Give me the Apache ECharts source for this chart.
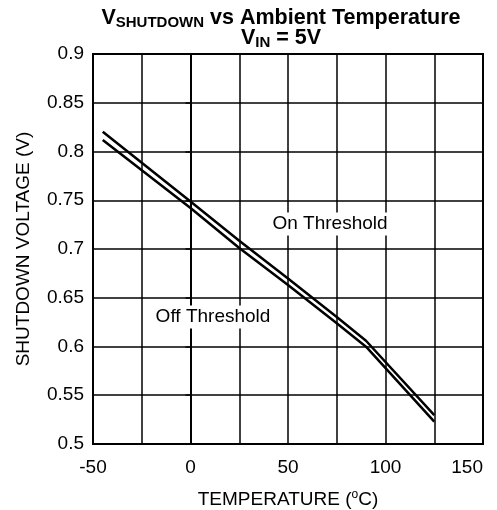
<html>

<head>
    <meta charset="utf-8" />
    <title>VSHUTDOWN vs Ambient Temperature</title>
    <script src="https://cdn.jsdelivr.net/npm/echarts@6/dist/echarts.min.js"></script>
    <style>
        html, body {
            margin: 0;
            background: #fff;
        }
        #chart {
            width: 497px;
            height: 510px;
        }
    </style>
</head>

<body>
<div id="chart"></div>

<script>
    // values
    const onTemp = [-45, 0, 25, 50, 75, 90, 125];
    const onVolt = [0.8203, 0.7488, 0.7085, 0.6697, 0.6303, 0.6059, 0.5297];
    const offTemp = [-45, 0, 25, 50, 75, 90, 125];
    const offVolt = [0.8118, 0.742, 0.701, 0.663, 0.6238, 0.5998, 0.5229];

    const xMin = -50, xMax = 150, xStep = 25;
    const yMin = 0.5, yMax = 0.9, yStep = 0.05;

    const font = '"Liberation Sans", Arial, sans-serif';

    function pairs(xs, ys) {
        return xs.map((x, i) => [x, ys[i]]);
    }

    let chart = echarts.init(document.getElementById('chart'));

    chart.setOption({
        animation: false,
        textStyle: { fontFamily: font },
        grid: {
            left: 93,
            right: 14,
            top: 54,
            bottom: 66,
            outerBoundsMode: 'none',
            containLabel: false,
            show: true,
            borderColor: '#000',
            borderWidth: 2
        },
        xAxis: {
            type: 'value',
            min: xMin,
            max: xMax,
            interval: xStep,
            name: '{a|TEMPERATURE (}{s|o}{a|C)}',
            nameLocation: 'middle',
            nameGap: 45,
            nameTextStyle: {
                rich: {
                    a: { fontSize: 19, color: '#000', fontFamily: font, lineHeight: 22 },
                    s: { fontSize: 12, color: '#000', fontFamily: font, verticalAlign: 'top', lineHeight: 12 }
                }
            },
            axisLine: { lineStyle: { color: '#000', width: 2 } },
            axisTick: { show: false },
            splitLine: { lineStyle: { color: '#000', width: 1.5 } },
            axisLabel: {
                color: '#000',
                fontSize: 19,
                margin: 14,
                alignMaxLabel: 'right',
                formatter: v => (v % 50 === 0 ? String(v) : '')
            }
        },
        yAxis: {
            type: 'value',
            min: yMin,
            max: yMax,
            interval: yStep,
            name: 'SHUTDOWN VOLTAGE (V)',
            nameLocation: 'middle',
            nameGap: 60,
            nameTextStyle: { color: '#000', fontSize: 19 },
            axisLine: { lineStyle: { color: '#000', width: 2 } },
            axisTick: { show: true, length: 5, lineStyle: { color: '#000', width: 1.5 } },
            splitLine: { lineStyle: { color: '#000', width: 1.5 } },
            axisLabel: {
                color: '#000',
                fontSize: 19,
                margin: 9,
                formatter: v => String(+v.toFixed(2))
            }
        },
        series: [
            {
                name: 'On Threshold',
                type: 'line',
                data: pairs(onTemp, onVolt),
                showSymbol: false,
                lineStyle: { color: '#000', width: 2.5 },
                z: 5
            },
            {
                name: 'Off Threshold',
                type: 'line',
                data: pairs(offTemp, offVolt),
                showSymbol: false,
                lineStyle: { color: '#000', width: 2.5 },
                z: 5
            }
        ],
        graphic: [
            {
                type: 'text',
                x: 281,
                y: 8,
                z: 100,
                style: {
                    text: '{v|V}{s|SHUTDOWN}{v| vs Ambient Temperature}\n{v|V}{s|IN}{v| = 5V}',
                    align: 'center',
                    rich: {
                        v: { fontSize: 21.5, fontWeight: 'bold', fill: '#000', fontFamily: font, lineHeight: 20 },
                        s: { fontSize: 15, fontWeight: 'bold', fill: '#000', fontFamily: font, height: 10, lineHeight: 10, verticalAlign: 'bottom' }
                    }
                }
            },
            {
                type: 'text',
                x: 330,
                y: 224,
                z: 100,
                style: {
                    text: 'On Threshold',
                    align: 'center',
                    verticalAlign: 'middle',
                    fontSize: 19,
                    fontFamily: font,
                    fill: '#000',
                    backgroundColor: '#fff',
                    padding: [2, 2]
                }
            },
            {
                type: 'text',
                x: 213,
                y: 317,
                z: 100,
                style: {
                    text: 'Off Threshold',
                    align: 'center',
                    verticalAlign: 'middle',
                    fontSize: 19,
                    fontFamily: font,
                    fill: '#000',
                    backgroundColor: '#fff',
                    padding: [2, 2]
                }
            }
        ]
    });
</script>
</body>

</html>
